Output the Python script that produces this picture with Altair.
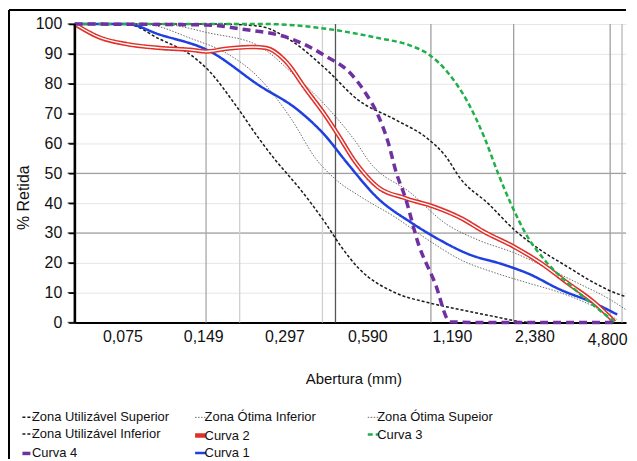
import altair as alt
import pandas as pd

# ---- data (abertura em mm, % retida) ----
zus_x = [0.05, 0.17, 0.239, 0.316, 0.421, 0.556, 0.760, 1.005, 1.161, 1.329, 1.669, 2.096, 2.613, 3.283, 4.125, 5.137, 5.40]
zus_y = [100, 100, 99.3, 94.3, 85, 74.5, 68, 61.5, 56, 48, 40, 31, 24.3, 18.7, 13.3, 9.3, 8.7]

zui_x = [0.05, 0.0776, 0.1026, 0.1356, 0.1565, 0.1966, 0.2389, 0.2757, 0.30, 0.335, 0.4208, 0.4818, 0.5563, 0.7604, 1.005, 1.329, 1.77, 2.205, 2.40]
zui_y = [100, 100, 95, 89.3, 84.3, 72.7, 61.7, 54.3, 50.4, 45.3, 33.3, 25.3, 18.3, 10, 6.7, 4.3, 2, 0.3, 0]

zos_x = [0.05, 0.1026, 0.1565, 0.2389, 0.3157, 0.4208, 0.5563, 0.6054, 0.8706, 1.161, 1.534, 2.096, 2.703, 3.573, 4.722, 5.40]
zos_y = [100, 100, 97, 92.7, 83.7, 72.7, 59.3, 54.3, 43.3, 33.3, 27.7, 23.3, 18.7, 13.3, 7.7, 4.3]

zoi_x = [0.05, 0.0888, 0.1356, 0.1807, 0.2389, 0.3157, 0.3867, 0.4579, 0.5705, 0.7604, 1.005, 1.329, 1.77, 2.341, 3.094, 4.125, 5.01]
zoi_y = [100, 100, 95, 90.3, 82, 68, 55, 48, 42, 35.3, 27.7, 21, 16.7, 13.3, 10, 5.3, 1]

c1_x = [0.05, 0.0776, 0.1026, 0.1565, 0.2389, 0.335, 0.4208, 0.50, 0.6587, 0.8706, 1.094, 1.41, 1.927, 2.341, 3.094, 4.125, 5.01]
c1_y = [100, 100, 96.5, 91, 79.5, 71, 62.5, 54, 41.5, 33.5, 28, 23, 19.3, 16.5, 11, 6.5, 2.7]

c2_x = [0.05, 0.0618, 0.0776, 0.1026, 0.1356, 0.1526, 0.1807, 0.2251, 0.2534, 0.30, 0.3554, 0.4208, 0.4697, 0.54, 0.6587, 0.8277, 1.066, 1.329, 1.627, 2.096, 2.613, 3.283, 4.125, 4.885]
c2_y = [100, 95.5, 93.3, 92, 91.3, 90.8, 91.7, 92.3, 92, 87.5, 78.3, 69.3, 62.7, 54, 45.3, 41.7, 38.7, 35, 30.3, 25.3, 20, 13.3, 6.7, 0.3]

c3_x = [0.05, 0.25, 0.4316, 0.6587, 0.8706, 1.005, 1.19, 1.41, 1.627, 1.816, 2.027, 2.341, 2.703, 3.283, 3.987, 4.885]
c3_y = [100, 100, 98.3, 95.3, 92.7, 90, 83.7, 73.7, 61.7, 50.3, 40, 28.7, 21, 13.3, 6.7, 0.3]

c4_x = [0.05, 0.1526, 0.2069, 0.3157, 0.4208, 0.52, 0.59, 0.6587, 0.7166, 0.767, 0.8277, 0.9235, 1.066, 1.211, 1.60, 2.40, 5.01]
c4_y = [100, 99.7, 98.3, 95, 89.3, 83.5, 77, 69.3, 60.3, 50.3, 42, 26.7, 13.3, 0.3, 0, 0, 0]

series_names = ["Zona Utilizável Superior", "Zona Ótima Inferior", "Zona Ótima Supeior",
                "Zona Utilizável Inferior", "Curva 2", "Curva 3", "Curva 4", "Curva 1"]
series_colors = ["#1a1a1a", "#6b6b6b", "#6b6b6b", "#1a1a1a", "#e0302a", "#1fb04a", "#7030a0", "#1f40e0"]
series_dash = [[3, 2], [1.5, 1.5], [1.5, 1.5], [3, 2], [1, 0], [5, 3], [8, 5], [1, 0]]
series_width = [1.5, 1.0, 1.0, 1.5, 4.5, 2.5, 3.5, 2.5]

x_ticks = [0.075, 0.149, 0.297, 0.59, 1.19, 2.38, 4.8]
y_ticks = [0, 10, 20, 30, 40, 50, 60, 70, 80, 90, 100]
y_dark_grid = [30, 50]

vgrid_x = [0.1526, 0.2030, 0.410, 0.458, 1.03, 2.08, 4.72, 5.22]
vgrid_color = ["#a8a8a8", "#d0d0d0", "#d0d0d0", "#555555", "#a0a0a0", "#a0a0a0", "#a0a0a0", "#b8b8b8"]

data = {
    "Zona Utilizável Superior": (zus_x, zus_y),
    "Zona Utilizável Inferior": (zui_x, zui_y),
    "Zona Ótima Supeior": (zos_x, zos_y),
    "Zona Ótima Inferior": (zoi_x, zoi_y),
    "Curva 1": (c1_x, c1_y),
    "Curva 2": (c2_x, c2_y),
    "Curva 3": (c3_x, c3_y),
    "Curva 4": (c4_x, c4_y),
}

W, H = 554, 300
XMIN, XMAX = 0.05, 5.40
font = "Liberation Sans"

xscale = alt.Scale(type="log", domain=[XMIN, XMAX], nice=False)
yscale = alt.Scale(domain=[0, 100], nice=False)

xaxis = alt.Axis(values=x_ticks, grid=False, ticks=False, tickSize=0, domain=True,
                 labelExpr="replace(format(datum.value, '.3f'), '.', ',')",
                 labelFont=font, labelFontSize=16, labelColor="#111",
                 labelPadding=alt.ConditionalAxisNumber(
                     condition={"test": "datum.value > 4", "value": 9}, value=6),
                 labelOffset=alt.ConditionalAxisNumber(
                     condition=[{"test": "datum.value > 4", "value": -5},
                                {"test": "datum.value > 2", "value": 5},
                                {"test": "datum.value > 1", "value": 4},
                                {"test": "datum.value > 0.5", "value": 2}],
                     value=0),
                 labelFlush=False, labelOverlap=False,
                 domainColor="#000", domainWidth=2,
                 titleFont=font, titleFontSize=15, titleFontWeight="normal", titleColor="#111",
                 titleX=280, titleY=49, titleBaseline="top")
yaxis = alt.Axis(values=y_ticks, grid=True, domain=True, ticks=True,
                 gridColor="#e6e6e6", gridWidth=1,
                 tickSize=6, tickColor="#000", tickWidth=1.5,
                 labelFont=font, labelFontSize=16, labelColor="#111", labelPadding=7,
                 domainColor="#000", domainWidth=2,
                 titleFont=font, titleFontSize=16, titleFontWeight="normal", titleColor="#111",
                 titleX=-43, titleY=174, titleBaseline="bottom", titleAngle=270)

X = alt.X("x:Q", scale=xscale, title="Abertura (mm)", axis=xaxis)
Y = alt.Y("y:Q", scale=yscale, title="% Retida", axis=yaxis)

leg = alt.Legend(title=None, orient="none", legendX=-55, legendY=387,
                 columns=3, direction="horizontal", gridAlign="all",
                 columnPadding=15.5, rowPadding=0.5,
                 labelFont=font, labelFontSize=13, labelColor="#111",
                 labelLimit=400, labelOffset=alt.ExprRef(expr="-4"),
                 symbolType="stroke", symbolSize=121)

rows = []
for name in series_names:
    xs, ys = data[name]
    for a, b in zip(xs, ys):
        rows.append({"x": a, "y": b, "serie": name})
df_all = pd.DataFrame(rows)

color_enc = alt.Color("serie:N", scale=alt.Scale(domain=series_names, range=series_colors), legend=leg)
dash_enc = alt.StrokeDash("serie:N", scale=alt.Scale(domain=series_names, range=series_dash), legend=leg)
width_enc = alt.StrokeWidth("serie:N", scale=alt.Scale(type="ordinal", domain=series_names, range=series_width),
                            legend=leg)

base_lines = alt.Chart(df_all).mark_line(interpolate="monotone").encode(
    x=X, y=Y, color=color_enc, strokeDash=dash_enc, strokeWidth=width_enc, detail="serie:N")

zones = ["Zona Ótima Inferior", "Zona Ótima Supeior", "Zona Utilizável Inferior", "Zona Utilizável Superior"]
lines_zones = base_lines.transform_filter(alt.FieldOneOfPredicate(field="serie", oneOf=zones))
lines_c1 = base_lines.transform_filter(alt.FieldEqualPredicate(field="serie", equal="Curva 1"))
lines_c2 = base_lines.transform_filter(alt.FieldEqualPredicate(field="serie", equal="Curva 2"))
lines_c3 = base_lines.transform_filter(alt.FieldEqualPredicate(field="serie", equal="Curva 3"))
lines_c4 = base_lines.transform_filter(alt.FieldEqualPredicate(field="serie", equal="Curva 4"))

c2_df = pd.DataFrame({"x": c2_x, "y": c2_y})
c2_inner = alt.Chart(c2_df).mark_line(interpolate="monotone", color="white", strokeWidth=1.4).encode(x=X, y=Y)

df_vgrid = pd.DataFrame({"x": vgrid_x, "c": vgrid_color})
vgrid = alt.Chart(df_vgrid).mark_rule(strokeWidth=1.3).encode(
    x=X, stroke=alt.Stroke("c:N", scale=None, legend=None))

hgrid = alt.Chart(pd.DataFrame({"y": y_dark_grid})).mark_rule(color="#8c8c8c", strokeWidth=1).encode(y=Y)

# y-axis line and ticks (drawn explicitly)
yline = alt.Chart(pd.DataFrame({"x": [XMIN]})).mark_rule(color="#000", strokeWidth=2.2, clip=False).encode(x=X)
yticks = alt.Chart(pd.DataFrame({"y": y_ticks})).mark_tick(
    color="#000", thickness=1.5, size=7, orient="horizontal", clip=False, xOffset=-3.5).encode(
    y=Y, x=alt.value(0))

frame_left = alt.Chart(pd.DataFrame({"a": [0]})).mark_rule(color="#000", strokeWidth=2).encode(
    x=alt.value(-66), y=alt.value(-14), y2=alt.value(437))
frame_top = alt.Chart(pd.DataFrame({"a": [0]})).mark_rule(color="#000", strokeWidth=2).encode(
    x=alt.value(-66), x2=alt.value(W), y=alt.value(-14))

chart = alt.layer(
    hgrid, vgrid, lines_zones, lines_c1, lines_c2, c2_inner, lines_c3, lines_c4,
    yline, yticks, frame_left, frame_top,
).properties(
    width=W, height=H,
    padding={"left": 0, "top": 0, "right": 0, "bottom": 0},
    background="white",
).configure_view(stroke="transparent")

chart.save("out.html", embed_options={"renderer": "svg", "actions": False})
